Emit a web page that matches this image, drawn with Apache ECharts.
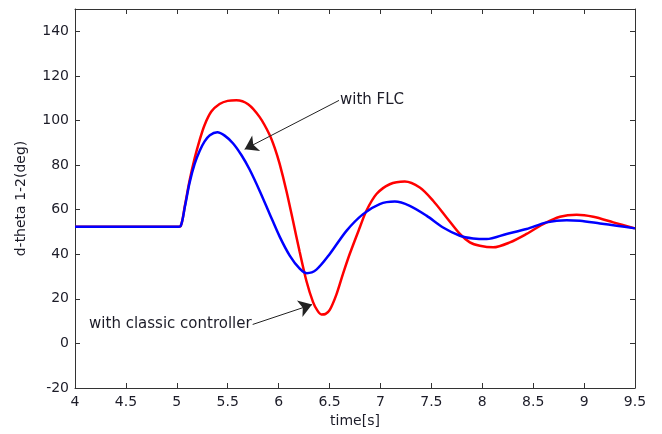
<!DOCTYPE html>
<html>
<head>
<meta charset="utf-8">
<script src="https://cdn.jsdelivr.net/npm/echarts@6/dist/echarts.min.js"></script>
<style>
  html, body { margin: 0; padding: 0; background: #fff; }
  #chart { width: 662px; height: 434px; }
</style>
</head>
<body>
<div id="chart"></div>
<script>
// Rotor angle difference between machines 1 and 2 after a disturbance
var xTicks = [4, 4.5, 5, 5.5, 6, 6.5, 7, 7.5, 8, 8.5, 9, 9.5];
var yTicks = [-20, 0, 20, 40, 60, 80, 100, 120, 140];

// response with the classic controller (red)
var classicTime = [4.00, 4.95, 5.000, 5.037, 5.080, 5.125, 5.175, 5.224, 5.273, 5.339, 5.420, 5.499,
  5.585, 5.700, 5.814, 5.912, 5.963, 6.010, 6.076, 6.141, 6.207,
  6.273, 6.338, 6.380, 6.420, 6.460, 6.502, 6.568, 6.632, 6.698, 6.797, 6.862, 6.961,
  7.091, 7.239, 7.386, 7.517, 7.649, 7.780, 7.878, 7.976, 8.107, 8.271,
  8.435, 8.598, 8.763, 8.927, 9.090, 9.287, 9.500];
var classicDeg = [52.3, 52.3, 52.3, 52.6, 62.0, 73.0, 83.0, 91.2, 98.0, 104.0, 107.4, 108.8,
  109.1, 107.3, 101.5, 93.5, 87.5, 80.5, 68.5, 55.0, 41.0,
  28.0, 18.5, 14.8, 13.0, 13.2, 15.0, 22.0, 31.2, 40.1, 52.0, 59.5, 67.0,
  71.4, 72.6, 69.9, 64.0, 56.5, 49.1, 45.3, 43.8, 43.1, 45.3,
  49.1, 53.5, 56.8, 57.7, 56.8, 54.3, 51.6];

// response with the fuzzy logic controller (blue)
var flcTime = [4.00, 4.95, 5.000, 5.037, 5.080, 5.125, 5.175, 5.224, 5.273, 5.324, 5.398, 5.470,
  5.551, 5.634, 5.715, 5.814, 5.912, 6.010, 6.109, 6.207, 6.276, 6.371,
  6.502, 6.666, 6.829, 6.993, 7.141, 7.288, 7.452, 7.615, 7.780, 7.910,
  8.042, 8.239, 8.435, 8.632, 8.828, 8.959, 9.156, 9.320, 9.500];
var flcDeg = [52.3, 52.3, 52.3, 52.6, 61.5, 72.0, 80.5, 86.3, 90.6, 93.4, 94.7, 93.2,
  89.8, 84.5, 78.0, 68.4, 58.1, 47.9, 39.4, 33.5, 31.5, 33.1,
  40.1, 50.5, 58.0, 62.5, 63.6, 61.7, 57.3, 52.0, 48.3, 47.1,
  46.8, 49.1, 51.3, 54.3, 55.3, 55.0, 53.8, 52.8, 51.6];

// annotation arrows: text anchor and arrow tip, in data units
var flcNote = { text: 'with FLC', from: [6.593, 109.0], to: [5.666, 87.1] };
var classicNote = { text: 'with classic controller', from: [5.745, 8.5], to: [6.328, 17.4] };

function pairs(t, v) { return t.map(function (x, i) { return [x, v[i]]; }); }

var FONT = 'DejaVu Sans';
var INK = '#1c1c28';
var AXIS = '#333333';

function boxAxis(extra) {
  var base = {
    type: 'value',
    axisLine: { show: true, onZero: false, lineStyle: { color: AXIS, width: 1 } },
    axisTick: { show: true, inside: true, length: 5, lineStyle: { color: AXIS } },
    splitLine: { show: false },
    axisLabel: { show: false }
  };
  return Object.assign(base, extra);
}

function note(n) {
  return {
    markLine: {
      silent: true,
      symbol: ['none', 'arrow'],
      symbolSize: 13,
      lineStyle: { color: '#222', width: 1, type: 'solid' },
      itemStyle: { color: '#000' },
      label: { show: false },
      data: [[{ coord: n.from }, { coord: n.to }]],
      animation: false
    }
  };
}

var chart = echarts.init(document.getElementById('chart'), null, { renderer: 'canvas' });
chart.setOption({
  animation: false,
  backgroundColor: '#ffffff',
  grid: { left: 75, right: 27, top: 9, bottom: 46 },
  xAxis: [
    boxAxis({
      position: 'bottom', min: xTicks[0], max: xTicks[xTicks.length - 1], interval: 0.5,
      name: 'time[s]', nameLocation: 'middle', nameGap: 25,
      nameTextStyle: { fontFamily: FONT, fontSize: 14, color: INK },
      axisLabel: { show: true, margin: 7, fontFamily: FONT, fontSize: 14, color: INK }
    }),
    boxAxis({ position: 'top', min: xTicks[0], max: xTicks[xTicks.length - 1], interval: 0.5 })
  ],
  yAxis: [
    boxAxis({
      position: 'left', min: yTicks[0], max: 150, interval: 20,
      name: 'd-theta 1-2(deg)', nameLocation: 'middle', nameGap: 47,
      nameTextStyle: { fontFamily: FONT, fontSize: 14, color: INK },
      axisLabel: { show: true, margin: 6, showMaxLabel: false, fontFamily: FONT, fontSize: 14, color: INK }
    }),
    boxAxis({ position: 'right', min: yTicks[0], max: 150, interval: 20 })
  ],
  series: [
    Object.assign({
      name: 'classic', type: 'line', xAxisIndex: 0, yAxisIndex: 0,
      data: pairs(classicTime, classicDeg),
      showSymbol: false, smooth: 0.3,
      lineStyle: { color: '#ff0000', width: 2.5 },
      markPoint: {
        symbol: 'circle', symbolSize: 0,
        label: { show: true, position: 'left', distance: 1, formatter: classicNote.text,
                 fontFamily: FONT, fontSize: 15, color: INK },
        data: [{ coord: classicNote.from }]
      }
    }, note(classicNote)),
    Object.assign({
      name: 'FLC', type: 'line', xAxisIndex: 0, yAxisIndex: 0,
      data: pairs(flcTime, flcDeg),
      showSymbol: false, smooth: 0.3,
      lineStyle: { color: '#0000ff', width: 2.5 },
      markPoint: {
        symbol: 'circle', symbolSize: 0,
        label: { show: true, position: 'right', distance: 1, formatter: flcNote.text,
                 fontFamily: FONT, fontSize: 15, color: INK },
        data: [{ coord: flcNote.from }]
      }
    }, note(flcNote))
  ]
});
</script>
</body>
</html>
